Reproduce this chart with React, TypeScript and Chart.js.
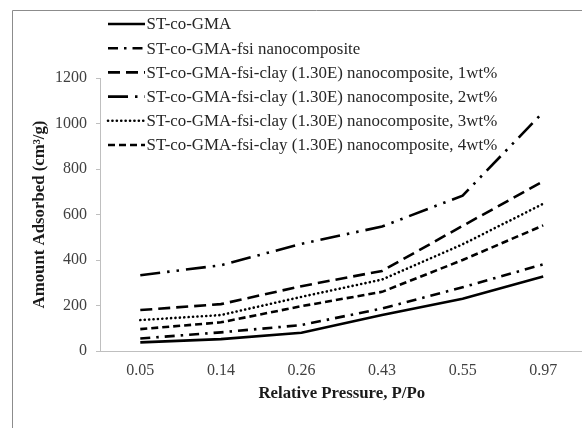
import React, { useEffect, useRef } from "react";
import { Chart, registerables } from "chart.js";

Chart.register(...registerables);

const pressures = ["0.05", "0.14", "0.26", "0.43", "0.55", "0.97"];
const stCoGma = [38, 52, 80, 158, 230, 328];
const fsiNano = [55, 82, 114, 187, 280, 381];
const clay1wt = [180, 206, 285, 352, 550, 746];
const clay2wt = [333, 377, 471, 547, 683, 1050];
const clay3wt = [136, 158, 238, 314, 469, 647];
const clay4wt = [96, 126, 197, 260, 400, 552];
const seriesNames = [
  "ST-co-GMA",
  "ST-co-GMA-fsi nanocomposite",
  "ST-co-GMA-fsi-clay (1.30E) nanocomposite, 1wt%",
  "ST-co-GMA-fsi-clay (1.30E) nanocomposite, 2wt%",
  "ST-co-GMA-fsi-clay (1.30E) nanocomposite, 3wt%",
  "ST-co-GMA-fsi-clay (1.30E) nanocomposite, 4wt%",
];
const yMin = 0;
const yMax = 1200;
const yStep = 200;

const SERIF = "'Liberation Serif', 'Times New Roman', serif";

const styles = [
  { dash: [] as number[], cap: "butt" as CanvasLineCap },
  { dash: [10, 6, 2.5, 6], cap: "butt" as CanvasLineCap },
  { dash: [12, 6], cap: "butt" as CanvasLineCap },
  { dash: [20, 7, 2.5, 7, 2.5, 7], cap: "butt" as CanvasLineCap },
  { dash: [0.1, 4.3], cap: "round" as CanvasLineCap },
  { dash: [7, 4], cap: "butt" as CanvasLineCap },
];

const frameAndLegend = {
  id: "frameAndLegend",
  afterDraw(chart: any) {
    const ctx = chart.ctx;
    ctx.save();
    // outer frame
    ctx.strokeStyle = "#8c8c8c";
    ctx.lineWidth = 1;
    ctx.setLineDash([]);
    ctx.beginPath();
    ctx.moveTo(12.5, 1000);
    ctx.lineTo(12.5, 10.5);
    ctx.lineTo(1000, 10.5);
    ctx.stroke();
    // legend
    const x0 = 108;
    const x1 = 145;
    const y0 = 24;
    const dy = 24.2;
    ctx.font = `16.9px ${SERIF}`;
    ctx.textBaseline = "middle";
    ctx.textAlign = "left";
    seriesNames.forEach((name, i) => {
      const y = y0 + i * dy;
      ctx.strokeStyle = "#000";
      ctx.lineWidth = 2.6;
      ctx.lineCap = styles[i].cap;
      ctx.setLineDash(styles[i].dash);
      ctx.beginPath();
      ctx.moveTo(x0, y);
      ctx.lineTo(x1, y);
      ctx.stroke();
      ctx.setLineDash([]);
      ctx.fillStyle = "#262626";
      ctx.fillText(name, x1 + 1.5, y + 1);
    });
    ctx.restore();
  },
};

export default function App() {
  const canvasRef = useRef<HTMLCanvasElement | null>(null);

  useEffect(() => {
    const canvas = canvasRef.current;
    if (!canvas) return;
    const values = [stCoGma, fsiNano, clay1wt, clay2wt, clay3wt, clay4wt];
    const chart = new Chart(canvas, {
      type: "line",
      data: {
        labels: pressures,
        datasets: values.map((v, i) => ({
          label: seriesNames[i],
          data: v,
          borderColor: "#000",
          backgroundColor: "#000",
          borderWidth: 2.6,
          borderDash: styles[i].dash,
          borderCapStyle: styles[i].cap,
          pointRadius: 0,
          pointHoverRadius: 0,
          tension: 0,
          fill: false,
        })),
      },
      options: {
        responsive: false,
        animation: false,
        devicePixelRatio: 1,
        layout: { padding: { left: 0, top: 78, right: 36.5, bottom: 0 } },
        plugins: {
          legend: { display: false },
          tooltip: { enabled: false },
        },
        scales: {
          x: {
            type: "category",
            offset: true,
            grid: { display: false, drawTicks: false, tickLength: 0 },
            border: { display: true, color: "#bfbfbf", width: 1 },
            ticks: {
              color: "#404040",
              font: { family: SERIF, size: 16 },
              padding: 10,
              maxRotation: 0,
              autoSkip: false,
            },
            title: {
              display: true,
              text: "Relative Pressure, P/Po",
              color: "#1a1a1a",
              font: { family: SERIF, size: 16.8, weight: "bold" },
              padding: { top: 0, bottom: 36 },
            },
            afterFit: (scale: any) => {
              scale.height = 89;
            },
          },
          y: {
            min: yMin,
            max: yMax,
            ticks: {
              stepSize: yStep,
              color: "#404040",
              font: { family: SERIF, size: 16 },
              padding: 9,
              callback: (v: any) => String(v),
            },
            grid: {
              display: true,
              drawOnChartArea: false,
              drawTicks: true,
              tickLength: 4,
              color: "#bfbfbf",
            },
            border: { display: true, color: "#bfbfbf", width: 1 },
            title: {
              display: true,
              text: "Amount Adsorbed (cm³/g)",
              color: "#1a1a1a",
              font: { family: SERIF, size: 16.8, weight: "bold" },
              padding: { top: 30, bottom: 0 },
            },
            afterFit: (scale: any) => {
              scale.width = 100;
            },
          },
        },
      },
      plugins: [frameAndLegend],
    });
    return () => chart.destroy();
  }, []);

  return (
    <div
      style={{
        position: "fixed",
        left: 0,
        top: 0,
        width: 582,
        height: 428,
        overflow: "hidden",
        background: "#fff",
      }}
    >
      <canvas ref={canvasRef} width={620} height={440} style={{ display: "block" }} />
    </div>
  );
}
